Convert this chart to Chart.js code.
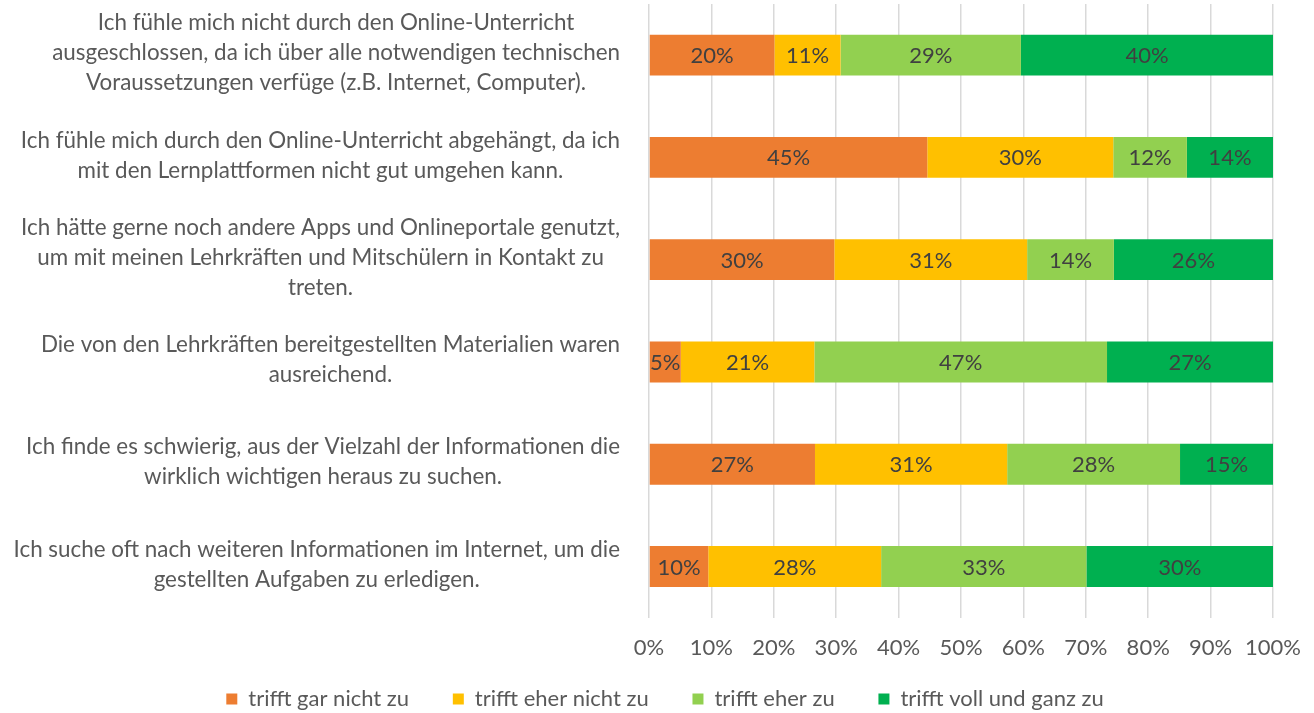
<!DOCTYPE html>
<html>
<head>
<meta charset="utf-8">
<script src="https://cdn.jsdelivr.net/npm/chart.js@4/dist/chart.umd.min.js"></script>
<style>
  html, body { margin: 0; padding: 0; background: #fff; }
  canvas { display: block; }
</style>
</head>
<body>
<canvas id="chart" width="1314" height="713"></canvas>
<script>
// statements (each one split into the lines shown in the original)
const statements = [
  ["Ich fühle mich nicht durch den Online-Unterricht", "ausgeschlossen, da ich über alle notwendigen technischen", "Voraussetzungen verfüge (z.B. Internet, Computer)."],
  ["Ich fühle mich durch den Online-Unterricht abgehängt, da ich", "mit den Lernplattformen nicht gut umgehen kann."],
  ["Ich hätte gerne noch andere Apps und Onlineportale genutzt,", "um mit meinen Lehrkräften und Mitschülern in Kontakt zu", "treten."],
  ["Die von den Lehrkräften bereitgestellten Materialien waren", "ausreichend."],
  ["Ich finde es schwierig, aus der Vielzahl der Informationen die", "wirklich wichtigen heraus zu suchen."],
  ["Ich suche oft nach weiteren Informationen im Internet, um die", "gestellten Aufgaben zu erledigen."]
];

const answerLabels = ["trifft gar nicht zu", "trifft eher nicht zu", "trifft eher zu", "trifft voll und ganz zu"];

// shares in percent
const garNicht  = [20.1, 44.6, 29.7, 5.1, 26.6, 9.5];
const eherNicht = [10.6, 29.8, 30.9, 21.4, 30.8, 27.7];
const eherZu    = [28.9, 11.8, 13.9, 46.9, 27.7, 32.9];
const vollZu    = [40.4, 13.8, 25.5, 26.6, 14.9, 29.9];

const xTicks = [0, 10, 20, 30, 40, 50, 60, 70, 80, 90, 100];

const colors = ["#ED7D31", "#FFC000", "#92D050", "#00B050"];
const FONT = "Lato, 'Open Sans', sans-serif";
const SIZE = 22;
const TEXT = "#595959";

// value labels in the middle of each segment
const segmentLabels = {
  id: "segmentLabels",
  afterDatasetsDraw(chart) {
    const ctx = chart.ctx;
    ctx.save();
    ctx.font = SIZE + "px " + FONT;
    ctx.fillStyle = "#404040";
    ctx.textAlign = "center";
    ctx.textBaseline = "middle";
    chart.data.datasets.forEach((ds, i) => {
      chart.getDatasetMeta(i).data.forEach((bar, j) => {
        const v = ds.data[j];
        ctx.fillText(Math.round(v) + "%", (bar.x + bar.base) / 2, bar.y + 1);
      });
    });
    ctx.restore();
  }
};

// category text: every statement centred on itself, right edge next to the plot
const categoryText = {
  id: "categoryText",
  afterDraw(chart) {
    const ctx = chart.ctx;
    const y = chart.scales.y;
    const right = chart.chartArea.left - 29;
    const lh = 30;
    ctx.save();
    ctx.font = "22.4px " + FONT;
    ctx.fillStyle = TEXT;
    ctx.textAlign = "center";
    ctx.textBaseline = "middle";
    statements.forEach((lines, i) => {
      const w = Math.max(...lines.map(l => ctx.measureText(l).width));
      const cx = right - w / 2;
      const cy = y.getPixelForValue(i) - 2;
      lines.forEach((l, k) => {
        ctx.fillText(l, cx, cy + (k - (lines.length - 1) / 2) * lh);
      });
    });
    ctx.restore();
  }
};

const series = [garNicht, eherNicht, eherZu, vollZu];

new Chart(document.getElementById("chart"), {
  type: "bar",
  data: {
    labels: statements.map((s, i) => String(i)),
    datasets: series.map((d, i) => ({
      label: answerLabels[i],
      data: d,
      backgroundColor: colors[i],
      borderWidth: 0,
      barPercentage: 1,
      categoryPercentage: 0.4
    }))
  },
  options: {
    indexAxis: "y",
    responsive: false,
    animation: false,
    devicePixelRatio: 1,
    layout: { padding: { left: 57, right: 41, top: 4, bottom: -7 } },
    scales: {
      x: {
        stacked: true,
        min: 0,
        max: 100,
        afterBuildTicks(scale) {
          scale.ticks = xTicks.map(v => ({ value: v }));
        },
        // the last label fits in the layout padding already
        afterFit(scale) { scale.paddingRight = 0; },
        grid: { color: "#D9D9D9", lineWidth: 1.5, drawTicks: false },
        border: { display: false },
        ticks: {
          padding: 17,
          color: TEXT,
          font: { family: FONT, size: SIZE },
          callback: v => v + "%"
        }
      },
      y: {
        stacked: true,
        grid: { display: false },
        border: { display: false },
        ticks: { display: false },
        afterFit(scale) { scale.width = 592; }
      }
    },
    plugins: {
      legend: {
        position: "bottom",
        labels: {
          boxWidth: 11,
          boxHeight: 11,
          padding: 10,
          color: TEXT,
          font: { family: FONT, size: SIZE },
          generateLabels(chart) {
            const items = Chart.defaults.plugins.legend.labels.generateLabels(chart);
            items.forEach((it, i) => {
              if (i < items.length - 1) it.text = it.text + "      ";
            });
            return items;
          }
        }
      },
      tooltip: { enabled: false }
    }
  },
  plugins: [segmentLabels, categoryText]
});
</script>
</body>
</html>
